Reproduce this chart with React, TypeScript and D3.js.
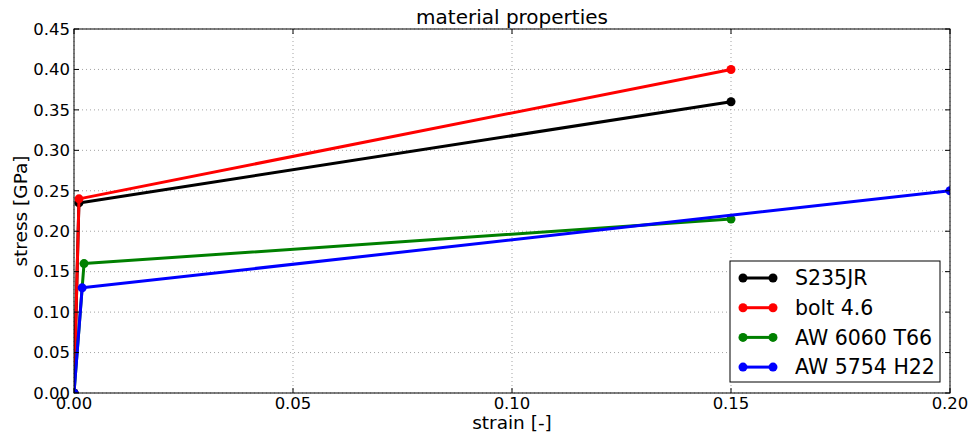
import { useEffect, useRef } from 'react';
import * as d3 from 'd3';

const seriesNames = ['S235JR', 'bolt 4.6', 'AW 6060 T66', 'AW 5754 H22'];
const seriesColors = ['#000000', '#ff0000', '#008000', '#0000ff'];
const strainS235 = [0, 0.00112, 0.15];
const stressS235 = [0, 0.235, 0.36];
const strainBolt = [0, 0.00114, 0.15];
const stressBolt = [0, 0.24, 0.40];
const strain6060 = [0, 0.00229, 0.15];
const stress6060 = [0, 0.16, 0.215];
const strain5754 = [0, 0.00186, 0.2];
const stress5754 = [0, 0.13, 0.25];
const xTicks = [0, 0.05, 0.1, 0.15, 0.2];
const yTicks = [0, 0.05, 0.1, 0.15, 0.2, 0.25, 0.3, 0.35, 0.4, 0.45];

export default function App() {
  const ref = useRef<SVGSVGElement>(null);

  useEffect(() => {
    const svg = d3.select(ref.current);
    svg.selectAll('*').remove();
    const width = 970, height = 437;
    const margin = { top: 29, right: 20, bottom: 44, left: 74 };
    const w = width - margin.left - margin.right;
    const h = height - margin.top - margin.bottom;
    const font = "'DejaVu Sans', sans-serif";

    const x = d3.scaleLinear().domain([0, 0.2]).range([0, w]);
    const y = d3.scaleLinear().domain([0, 0.45]).range([h, 0]);

    svg.append('rect').attr('width', width).attr('height', height).attr('fill', '#fff');
    svg.append('defs').append('clipPath').attr('id', 'plotclip')
      .append('rect').attr('width', w).attr('height', h);

    const g = svg.append('g').attr('transform', `translate(${margin.left},${margin.top})`);

    // grid
    g.append('g').selectAll('line').data(xTicks).enter().append('line')
      .attr('x1', d => x(d)).attr('x2', d => x(d)).attr('y1', 0).attr('y2', h)
      .attr('stroke', '#666').attr('stroke-width', 0.6).attr('stroke-dasharray', '1,3');
    g.append('g').selectAll('line').data(yTicks).enter().append('line')
      .attr('y1', d => y(d)).attr('y2', d => y(d)).attr('x1', 0).attr('x2', w)
      .attr('stroke', '#666').attr('stroke-width', 0.6).attr('stroke-dasharray', '1,3');

    const series = [
      { xs: strainS235, ys: stressS235 },
      { xs: strainBolt, ys: stressBolt },
      { xs: strain6060, ys: stress6060 },
      { xs: strain5754, ys: stress5754 },
    ];
    const line = d3.line<[number, number]>().x(d => x(d[0])).y(d => y(d[1]));
    const plot = g.append('g').attr('clip-path', 'url(#plotclip)');
    series.forEach((s, i) => {
      const pts: [number, number][] = s.xs.map((v, j) => [v, s.ys[j]]);
      plot.append('path').datum(pts).attr('d', line).attr('fill', 'none')
        .attr('stroke', seriesColors[i]).attr('stroke-width', 3).attr('stroke-linejoin', 'round');
      plot.selectAll(null).data(pts).enter().append('circle')
        .attr('cx', d => x(d[0])).attr('cy', d => y(d[1])).attr('r', 4.5).attr('fill', seriesColors[i]);
    });

    // frame
    g.append('rect').attr('width', w).attr('height', h).attr('fill', 'none')
      .attr('stroke', '#000').attr('stroke-width', 1);

    // ticks (inward, all sides)
    const tk = 5;
    xTicks.forEach(t => {
      g.append('line').attr('x1', x(t)).attr('x2', x(t)).attr('y1', h).attr('y2', h - tk).attr('stroke', '#000');
      g.append('line').attr('x1', x(t)).attr('x2', x(t)).attr('y1', 0).attr('y2', tk).attr('stroke', '#000');
    });
    yTicks.forEach(t => {
      g.append('line').attr('y1', y(t)).attr('y2', y(t)).attr('x1', 0).attr('x2', tk).attr('stroke', '#000');
      g.append('line').attr('y1', y(t)).attr('y2', y(t)).attr('x1', w).attr('x2', w - tk).attr('stroke', '#000');
    });

    g.selectAll('.xl').data(xTicks).enter().append('text')
      .attr('x', d => x(d)).attr('y', h + 16).attr('text-anchor', 'middle')
      .style('font-family', font).style('font-size', '16.5px').text(d => d.toFixed(2));
    g.selectAll('.yl').data(yTicks).enter().append('text')
      .attr('x', -4).attr('y', d => y(d)).attr('dy', '0.35em').attr('text-anchor', 'end')
      .style('font-family', font).style('font-size', '16.5px').text(d => d.toFixed(2));

    svg.append('text').attr('x', margin.left + w / 2).attr('y', 429).attr('text-anchor', 'middle')
      .style('font-family', font).style('font-size', '18.5px').text('strain [-]');
    svg.append('text').attr('transform', `translate(27,${margin.top + h / 2}) rotate(-90)`)
      .attr('text-anchor', 'middle').style('font-family', font).style('font-size', '18.5px').text('stress [GPa]');
    svg.append('text').attr('x', margin.left + w / 2).attr('y', 24).attr('text-anchor', 'middle')
      .style('font-family', font).style('font-size', '20px').text('material properties');

    // legend
    const lg = svg.append('g').attr('transform', 'translate(730,261)');
    lg.append('rect').attr('width', 210).attr('height', 121).attr('fill', '#fff')
      .attr('stroke', '#000').attr('stroke-width', 1);
    seriesNames.forEach((name, i) => {
      const cy = 17 + i * 29.7;
      lg.append('line').attr('x1', 13).attr('x2', 43).attr('y1', cy).attr('y2', cy)
        .attr('stroke', seriesColors[i]).attr('stroke-width', 3);
      [13, 43].forEach(cx => lg.append('circle').attr('cx', cx).attr('cy', cy).attr('r', 4.5).attr('fill', seriesColors[i]));
      lg.append('text').attr('x', 65).attr('y', cy).attr('dy', '0.35em')
        .style('font-family', font).style('font-size', '20.5px').text(name);
    });
  }, []);

  return (
    <div style={{ position: 'fixed', left: 0, top: 0 }}>
      <svg ref={ref} width={970} height={437} style={{ display: 'block' }} />
    </div>
  );
}
